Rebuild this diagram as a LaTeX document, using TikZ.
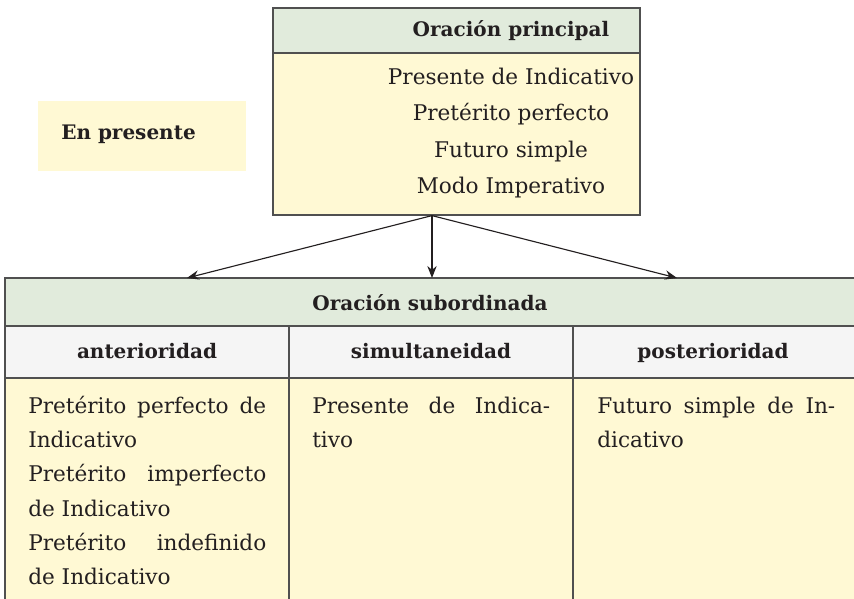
\documentclass[tikz,border=0pt]{standalone}
\usepackage{fontspec}
\setmainfont{DejaVu Serif}
\usetikzlibrary{arrows.meta}
\definecolor{hdrgreen}{HTML}{E1EBDC}
\definecolor{bodyyellow}{HTML}{FFF9D4}
\definecolor{colgray}{HTML}{F5F5F5}
\definecolor{linec}{HTML}{505050}
\definecolor{txt}{HTML}{231F20}
\newcommand{\jline}[1]{\makebox[178.5pt][s]{#1}}
\begin{document}
\begin{tikzpicture}[x=0.75pt,y=-0.75pt,
  frame/.style={draw=linec,line width=0.9pt},
  body/.style={font=\fontsize{16.2}{19}\selectfont,text=txt,inner sep=0pt,text height=0.72em,text depth=0.22em,yshift=-2.4pt},
  bold/.style={font=\fontsize{15}{18}\selectfont\bfseries,text=txt,inner sep=0pt,text height=0.72em,text depth=0.22em,yshift=-2.4pt},
  arr/.style={draw=txt,line width=0.85pt,-{Stealth[length=9pt,width=7pt]}}]
\useasboundingbox (0,0) rectangle (854,599);
\clip (0,0) rectangle (854,599);
% En presente
\fill[bodyyellow] (38,101) rectangle (246,171);
\node[bold,anchor=west] (enp) at (61,133) {En presente};
% main box
\fill[hdrgreen] (273,8) rectangle (640,53);
\fill[bodyyellow] (273,53) rectangle (640,215);
\node[frame,minimum width=275.25pt,minimum height=155.25pt,inner sep=0pt] (main) at (456.5,111.5) {};
\draw[frame] (main.west |- 0,53) -- (main.east |- 0,53);
\node[bold] (mhead) at (511,30) {Oración principal};
\node[body] (m1) at (511,78) {Presente de Indicativo};
\node[body] (m2) at (511,114) {Pretérito perfecto};
\node[body] (m3) at (511,151) {Futuro simple};
\node[body] (m4) at (511,187) {Modo Imperativo};
% table
\fill[hdrgreen] (5,278) rectangle (860,326);
\fill[colgray] (5,326) rectangle (860,378);
\fill[bodyyellow] (5,378) rectangle (860,605);
\draw[frame] (860,278) -- (5,278) -- (5,605);
\draw[frame] (5,326) -- (860,326);
\draw[frame] (5,378) -- (860,378);
\draw[frame] (289,326) -- (289,605);
\draw[frame] (573,326) -- (573,605);
\node[bold] (sub) at (430,304) {Oración subordinada};
\node[bold] (h1) at (147,352) {anterioridad};
\node[bold] (h2) at (431,352) {simultaneidad};
\node[bold] (h3) at (713,352) {posterioridad};
% column 1
\node[body,anchor=west] (a1) at (28,407) {\jline{Pretérito perfecto de}};
\node[body,anchor=west] (a2) at (28,441) {Indicativo};
\node[body,anchor=west] (a3) at (28,475) {\jline{Pretérito imperfecto}};
\node[body,anchor=west] (a4) at (28,510) {de Indicativo};
\node[body,anchor=west] (a5) at (28,544) {\jline{Pretérito indefinido}};
\node[body,anchor=west] (a6) at (28,578) {de Indicativo};
% column 2
\node[body,anchor=west] (b1) at (312,407) {\jline{Presente de Indica-}};
\node[body,anchor=west] (b2) at (312,441) {tivo};
% column 3
\node[body,anchor=west] (c1) at (597,407) {\jline{Futuro simple de In-}};
\node[body,anchor=west] (c2) at (597,441) {dicativo};
% arrows
\coordinate (t1) at (187,278);
\coordinate (t2) at (432,278);
\coordinate (t3) at (677,278);
\draw[arr] (main.south -| t2) -- (t1);
\draw[arr] (main.south -| t2) -- (t2);
\draw[arr] (main.south -| t2) -- (t3);
\end{tikzpicture}
\end{document}
